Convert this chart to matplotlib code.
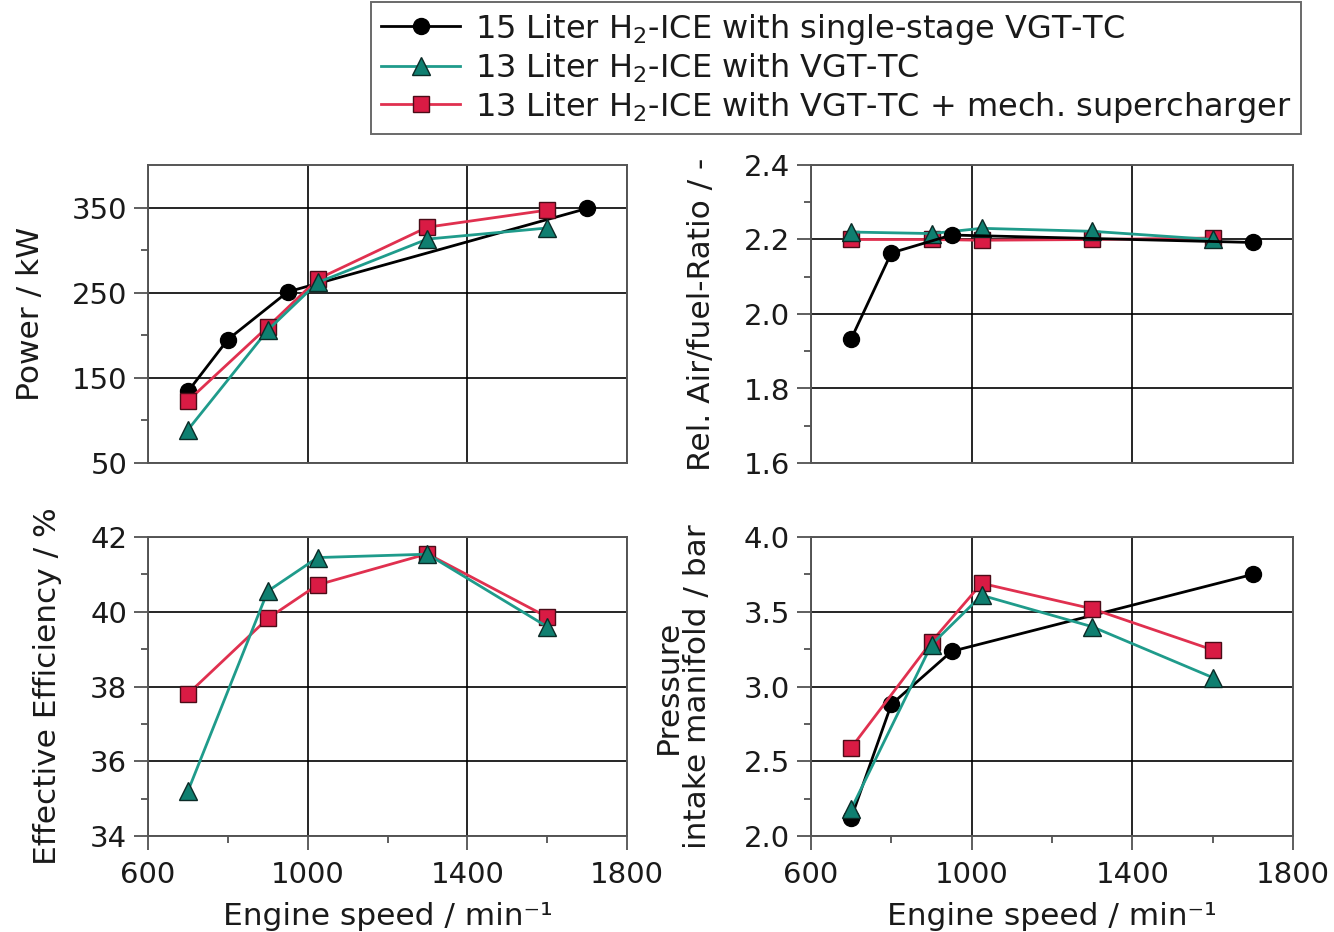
import matplotlib
matplotlib.use("Agg")
import matplotlib.pyplot as plt
from matplotlib.ticker import FixedLocator, FormatStrFormatter
from matplotlib.lines import Line2D

plt.rcParams['font.family'] = ['DejaVu Sans']
plt.rcParams['mathtext.default'] = 'regular'

# Engine speeds (min^-1)
speed_15l = [700, 800, 950, 1700]
speed_13l = [700, 900, 1025, 1300, 1600]

# Power / kW
power_15l = [134, 195, 251, 349]
power_13l_vgt = [89, 206, 262, 313, 326]
power_13l_sc = [123, 210, 266, 327, 347]

# Relative air/fuel ratio / -
lambda_15l = [1.933, 2.164, 2.212, 2.192]
lambda_13l_vgt = [2.22, 2.216, 2.23, 2.222, 2.20]
lambda_13l_sc = [2.20, 2.20, 2.198, 2.20, 2.204]

# Effective efficiency / %
eff_13l_vgt = [35.2, 40.55, 41.45, 41.54, 39.6]
eff_13l_sc = [37.8, 39.82, 40.72, 41.55, 39.86]

# Intake manifold pressure / bar
p_15l = [2.12, 2.88, 3.235, 3.75]
p_13l_vgt = [2.18, 3.28, 3.61, 3.40, 3.06]
p_13l_sc = [2.59, 3.30, 3.69, 3.52, 3.245]

speed_ticks = [600, 1000, 1400, 1800]
speed_minor = [800, 1200, 1600]

series_labels = [
    r"15 Liter H$_2$-ICE with single-stage VGT-TC",
    r"13 Liter H$_2$-ICE with VGT-TC",
    r"13 Liter H$_2$-ICE with VGT-TC + mech. supercharger",
]

BLACK = dict(color="black", marker="o", markersize=11.5, markerfacecolor="black",
             markeredgecolor="black", lw=2.0)
TEAL = dict(color="#1f9b8b", marker="^", markersize=13.5, markerfacecolor="#0f7f70",
            markeredgecolor="#0b2a26", markeredgewidth=1.0, lw=2.0)
RED = dict(color="#e0304f", marker="s", markersize=11.5, markerfacecolor="#d91b44",
           markeredgecolor="#4a0c18", markeredgewidth=1.0, lw=2.0)

W, H = 1334, 932
fig = plt.figure(figsize=(W / 100, H / 100), dpi=100)


def rect(l, t, r, b):
    return [l / W, 1 - b / H, (r - l) / W, (b - t) / H]


ax_p = fig.add_axes(rect(148, 165, 627, 463))
ax_l = fig.add_axes(rect(811, 165, 1293, 463))
ax_e = fig.add_axes(rect(148, 537, 627, 836))
ax_m = fig.add_axes(rect(811, 537, 1293, 836))

TICK_FS = 21
LABEL_FS = 22.5


def style(ax, ylim, yticks, yminor, yfmt):
    ax.set_xlim(600, 1800)
    ax.set_ylim(*ylim)
    ax.xaxis.set_major_locator(FixedLocator(speed_ticks))
    ax.xaxis.set_minor_locator(FixedLocator(speed_minor))
    ax.yaxis.set_major_locator(FixedLocator(yticks))
    ax.yaxis.set_minor_locator(FixedLocator(yminor))
    ax.yaxis.set_major_formatter(FormatStrFormatter(yfmt))
    ax.grid(True, which="major", color="black", lw=1.2)
    ax.set_axisbelow(True)
    ax.tick_params(which="major", direction="out", length=10, width=1.1,
                   color="#333333", labelsize=TICK_FS, pad=5, labelcolor="#1a1a1a")
    ax.tick_params(axis="x", which="major", pad=8)
    ax.tick_params(which="minor", direction="out", length=5, width=1.1, color="#333333")
    for s in ax.spines.values():
        s.set_color("#555555")
        s.set_linewidth(1.4)


style(ax_p, (50, 400), [50, 150, 250, 350], [100, 200, 300], "%d")
style(ax_l, (1.6, 2.4), [1.6, 1.8, 2.0, 2.2, 2.4], [1.7, 1.9, 2.1, 2.3], "%.1f")
style(ax_e, (34, 42), [34, 36, 38, 40, 42], [35, 37, 39, 41], "%d")
style(ax_m, (2.0, 4.0), [2.0, 2.5, 3.0, 3.5, 4.0], [2.25, 2.75, 3.25, 3.75], "%.1f")

for ax in (ax_p, ax_l):
    ax.tick_params(axis="x", which="both", labelbottom=False, length=0)

# Power
ax_p.plot(speed_15l, power_15l, **BLACK, zorder=3)
ax_p.plot(speed_13l, power_13l_sc, **RED, zorder=4)
ax_p.plot(speed_13l, power_13l_vgt, **TEAL, zorder=5)

# Air/fuel ratio
ax_l.plot(speed_13l, lambda_13l_sc, **RED, zorder=3)
ax_l.plot(speed_13l, lambda_13l_vgt, **TEAL, zorder=4)
ax_l.plot(speed_15l, lambda_15l, **BLACK, zorder=5)

# Efficiency
ax_e.plot(speed_13l, eff_13l_sc, **RED, zorder=3)
ax_e.plot(speed_13l, eff_13l_vgt, **TEAL, zorder=4)

# Intake pressure
ax_m.plot(speed_15l, p_15l, **BLACK, zorder=3)
ax_m.plot(speed_13l, p_13l_sc, **RED, zorder=4)
ax_m.plot(speed_13l, p_13l_vgt, **TEAL, zorder=5)

lab_kw = dict(fontsize=LABEL_FS, color="#1a1a1a", va="center")
ax_p.set_ylabel("Power / kW", **lab_kw)
ax_p.yaxis.set_label_coords(-0.245, 0.5)
ax_l.set_ylabel("Rel. Air/fuel-Ratio / -", **lab_kw)
ax_l.yaxis.set_label_coords(-0.228, 0.5)
ax_e.set_ylabel("Effective Efficiency / %", **lab_kw)
ax_e.yaxis.set_label_coords(-0.209, 0.5)
ax_m.set_ylabel("Pressure\nintake manifold / bar", linespacing=1.0, ha="center", **lab_kw)
ax_m.yaxis.set_label_coords(-0.266, 0.5)

for ax in (ax_e, ax_m):
    ax.set_xlabel("Engine speed / min\u207b\u00b9", **lab_kw)
    ax.xaxis.set_label_coords(0.5, -0.27)

handles = [
    Line2D([], [], **BLACK),
    Line2D([], [], **TEAL),
    Line2D([], [], **RED),
]
leg = fig.legend(handles, series_labels, loc="upper left",
                 bbox_to_anchor=(371 / W, 1 - 2 / H), fontsize=23,
                 frameon=True, fancybox=False, handlelength=2.5,
                 handletextpad=0.45, borderpad=0.3, labelspacing=0.15,
                 borderaxespad=0)
leg.get_frame().set_edgecolor("#444444")
leg.get_frame().set_linewidth(1.4)
for t in leg.get_texts():
    t.set_color("#1a1a1a")

fig.savefig("out.png", dpi=100)
